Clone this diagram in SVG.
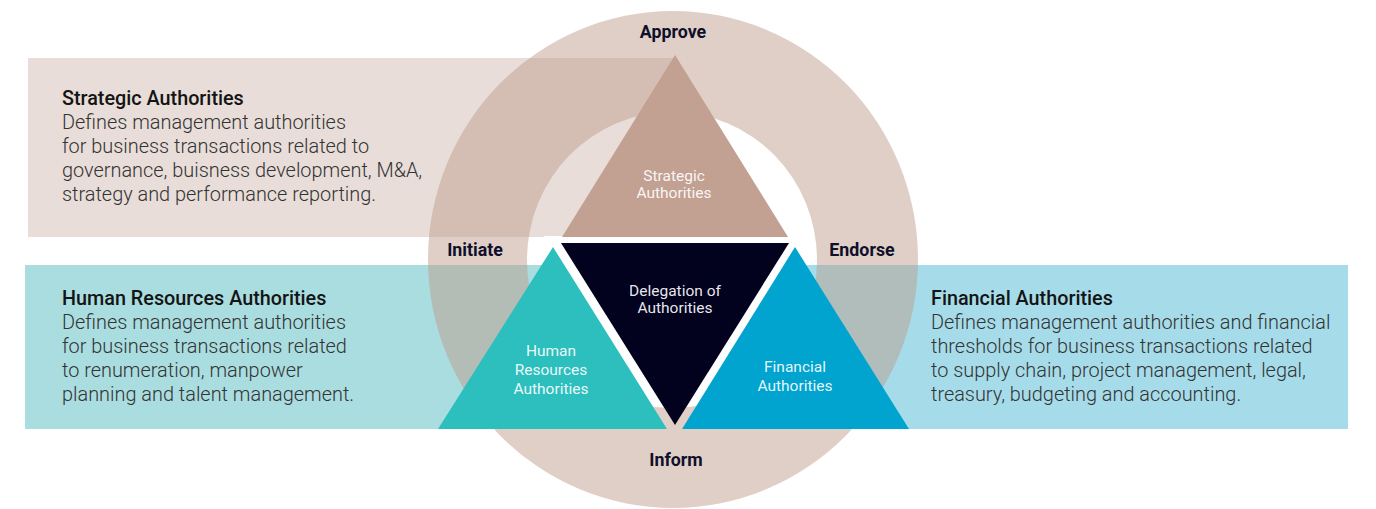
<svg xmlns="http://www.w3.org/2000/svg" width="1376" height="509" viewBox="0 0 1376 509">
<style>
.title{font-family:Roboto,"Liberation Sans",sans-serif;font-weight:500;font-size:19.8px;fill:#141414}
.body{font-family:Roboto,"Liberation Sans",sans-serif;font-weight:300;font-size:19.9px;fill:#333333}
.stage{font-family:Roboto,"Liberation Sans",sans-serif;font-weight:700;font-size:17.8px;fill:#0f0f2b;text-anchor:middle}
.tri{font-family:Roboto,"Liberation Sans",sans-serif;font-weight:400;font-size:15.5px;fill:#ffffff;fill-opacity:.92;text-anchor:middle}
</style>
<rect width="1376" height="509" fill="#ffffff"/>
<g id="panel-strategic">
<rect x="28" y="58" width="647" height="179" fill="#e8ddd8"/>
<text class="title" x="62" y="105">Strategic Authorities</text>
<text class="body" x="62" y="129">Defines management authorities</text>
<text class="body" x="62" y="153">for business transactions related to</text>
<text class="body" x="62" y="177">governance, buisness development, M&amp;A,</text>
<text class="body" x="62" y="201">strategy and performance reporting.</text>
</g>
<g id="panel-hr">
<rect x="25" y="265" width="650" height="164" fill="#a9dde0"/>
<text class="title" x="62" y="305">Human Resources Authorities</text>
<text class="body" x="62" y="329">Defines management authorities</text>
<text class="body" x="62" y="353">for business transactions related</text>
<text class="body" x="62" y="377">to renumeration, manpower</text>
<text class="body" x="62" y="401">planning and talent management.</text>
</g>
<g id="panel-financial">
<rect x="675" y="265" width="673" height="164" fill="#a6dcea"/>
<text class="title" x="931" y="305">Financial Authorities</text>
<text class="body" x="931" y="329">Defines management authorities and financial</text>
<text class="body" x="931" y="353">thresholds for business transactions related</text>
<text class="body" x="931" y="377">to supply chain, project management, legal,</text>
<text class="body" x="931" y="401">treasury, budgeting and accounting.</text>
</g>
<polygon id="gap" points="544,236 806,236 675,446" fill="#ffffff"/>
<g id="cycle">
<path d="M428,259.5a245,248.5 0 1,0 490,0a245,248.5 0 1,0 -490,0Z M527,260a145,148 0 1,0 290,0a145,148 0 1,0 -290,0Z" fill="rgb(190,155,136)" fill-opacity="0.48" fill-rule="evenodd"/>
<text class="stage" x="673" y="38">Approve</text>
<text class="stage" x="475" y="256">Initiate</text>
<text class="stage" x="862" y="256">Endorse</text>
<text class="stage" x="676" y="466">Inform</text>
</g>
<g id="node-strategic">
<polygon points="675,55 562,237 788,237" fill="#c2a193"/>
<text class="tri" x="674" y="181">Strategic</text>
<text class="tri" x="674" y="198">Authorities</text>
</g>
<g id="node-hr">
<polygon points="553,247 438,429 667,429" fill="#2dbfbd"/>
<text class="tri" x="551" y="356">Human</text>
<text class="tri" x="551" y="375">Resources</text>
<text class="tri" x="551" y="394">Authorities</text>
</g>
<g id="node-financial">
<polygon points="795,247 682,429 909,429" fill="#00a4cf"/>
<text class="tri" x="795" y="372">Financial</text>
<text class="tri" x="795" y="391">Authorities</text>
</g>
<g id="node-delegation">
<polygon points="561,243 789,243 675,425" fill="#02021f"/>
<text class="tri" x="675" y="296">Delegation of</text>
<text class="tri" x="675" y="313">Authorities</text>
</g>
</svg>
